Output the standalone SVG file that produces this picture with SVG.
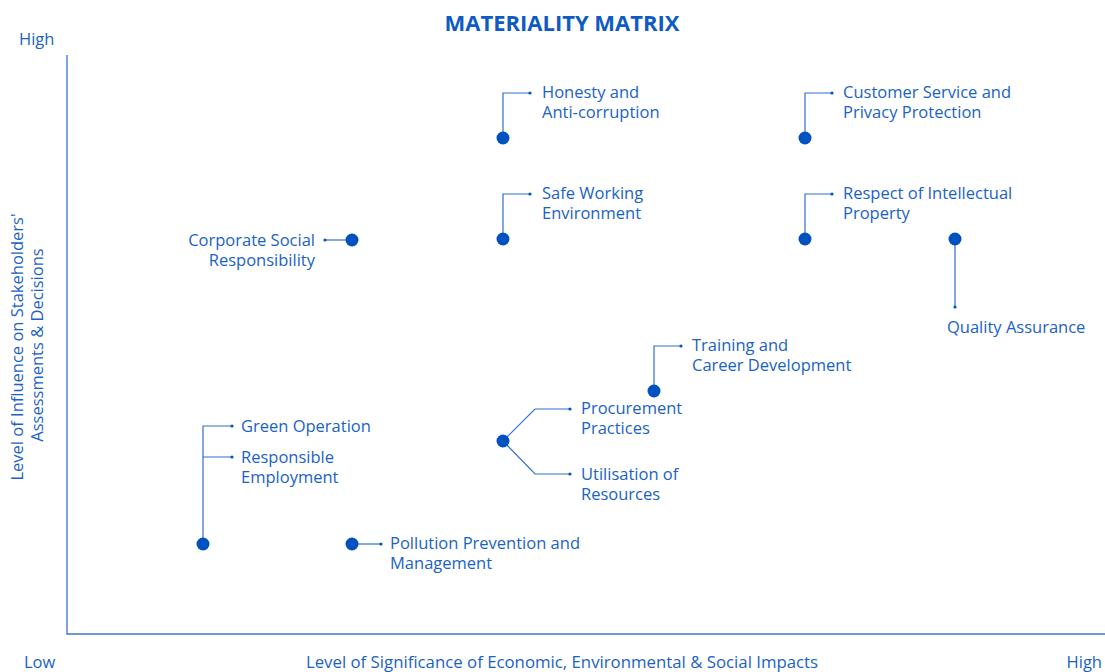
<svg xmlns="http://www.w3.org/2000/svg" width="1105" height="672" viewBox="0 0 1105 672">
<style>
text{font-family:"Open Sans","Liberation Sans",sans-serif;fill:#1a62c6;font-size:16.5px}
.title{font-weight:bold;font-size:22px;fill:#0f5bc4}
.ax{stroke:#3a76cc;stroke-width:1.3;fill:none}
.c{stroke:#2f6fca;stroke-width:1.2;fill:none}
.d{fill:#0052c1}
.e{fill:#0052c1}
</style>
<rect width="1105" height="672" fill="#fff"/>
<text class="title" x="562" y="31" text-anchor="middle">MATERIALITY MATRIX</text>
<text x="19" y="45">High</text>
<text x="24" y="668">Low</text>
<text x="562" y="668" text-anchor="middle" style="font-size:16.8px">Level of Significance of Economic, Environmental &amp; Social Impacts</text>
<text x="1102" y="668" text-anchor="end">High</text>
<text transform="translate(23,347) rotate(-90)" text-anchor="middle">Level of Influence on Stakeholders'</text>
<text transform="translate(43,345) rotate(-90)" text-anchor="middle">Assessments &amp; Decisions</text>
<g id="axes">
<path class="ax" d="M67,55 V634 H1105"/>
</g>
<g id="connectors">
<path class="c" d="M503,138 V93 H530"/><circle class="e" cx="530" cy="93" r="1.6"/>
<path class="c" d="M805,138 V93 H832"/><circle class="e" cx="832" cy="93" r="1.6"/>
<path class="c" d="M503,239 V194 H530"/><circle class="e" cx="530" cy="194" r="1.6"/>
<path class="c" d="M805,239 V194 H832"/><circle class="e" cx="832" cy="194" r="1.6"/>
<path class="c" d="M352,240 H325"/><circle class="e" cx="325" cy="240" r="1.6"/>
<path class="c" d="M955,239 V307"/><circle class="e" cx="955" cy="307" r="1.6"/>
<path class="c" d="M654,391 V346 H681"/><circle class="e" cx="681" cy="346" r="1.6"/>
<path class="c" d="M503,441 L535,409 H570 M503,441 L535,474 H570"/><circle class="e" cx="570" cy="409" r="1.6"/><circle class="e" cx="570" cy="474" r="1.6"/>
<path class="c" d="M203,544 V426 H232 M203,457 H232"/><circle class="e" cx="232" cy="426" r="1.6"/><circle class="e" cx="232" cy="457" r="1.6"/>
<path class="c" d="M352,544 H381"/><circle class="e" cx="381" cy="544" r="1.6"/>
</g>
<g id="honesty"><circle class="d" cx="503" cy="138" r="6.5"/><text x="542" y="98">Honesty and</text><text x="542" y="118">Anti-corruption</text></g>
<g id="customer"><circle class="d" cx="805" cy="138" r="6.5"/><text x="843" y="98">Customer Service and</text><text x="843" y="118">Privacy Protection</text></g>
<g id="safe"><circle class="d" cx="503" cy="239" r="6.5"/><text x="542" y="199">Safe Working</text><text x="542" y="219">Environment</text></g>
<g id="respect"><circle class="d" cx="805" cy="239" r="6.5"/><text x="843" y="199">Respect of Intellectual</text><text x="843" y="219">Property</text></g>
<g id="csr"><circle class="d" cx="352" cy="240" r="6.5"/><text x="315" y="246" text-anchor="end">Corporate Social</text><text x="315" y="266" text-anchor="end">Responsibility</text></g>
<g id="quality"><circle class="d" cx="955" cy="239" r="6.5"/><text x="947" y="333">Quality Assurance</text></g>
<g id="training"><circle class="d" cx="654" cy="391" r="6.5"/><text x="692" y="351">Training and</text><text x="692" y="371">Career Development</text></g>
<g id="procurement"><circle class="d" cx="503" cy="441" r="6.5"/><text x="581" y="414">Procurement</text><text x="581" y="434">Practices</text><text x="581" y="480">Utilisation of</text><text x="581" y="500">Resources</text></g>
<g id="green"><circle class="d" cx="203" cy="544" r="6.5"/><text x="241" y="432">Green Operation</text><text x="241" y="463">Responsible</text><text x="241" y="483">Employment</text></g>
<g id="pollution"><circle class="d" cx="352" cy="544" r="6.5"/><text x="390" y="549">Pollution Prevention and</text><text x="390" y="569">Management</text></g>
</svg>
